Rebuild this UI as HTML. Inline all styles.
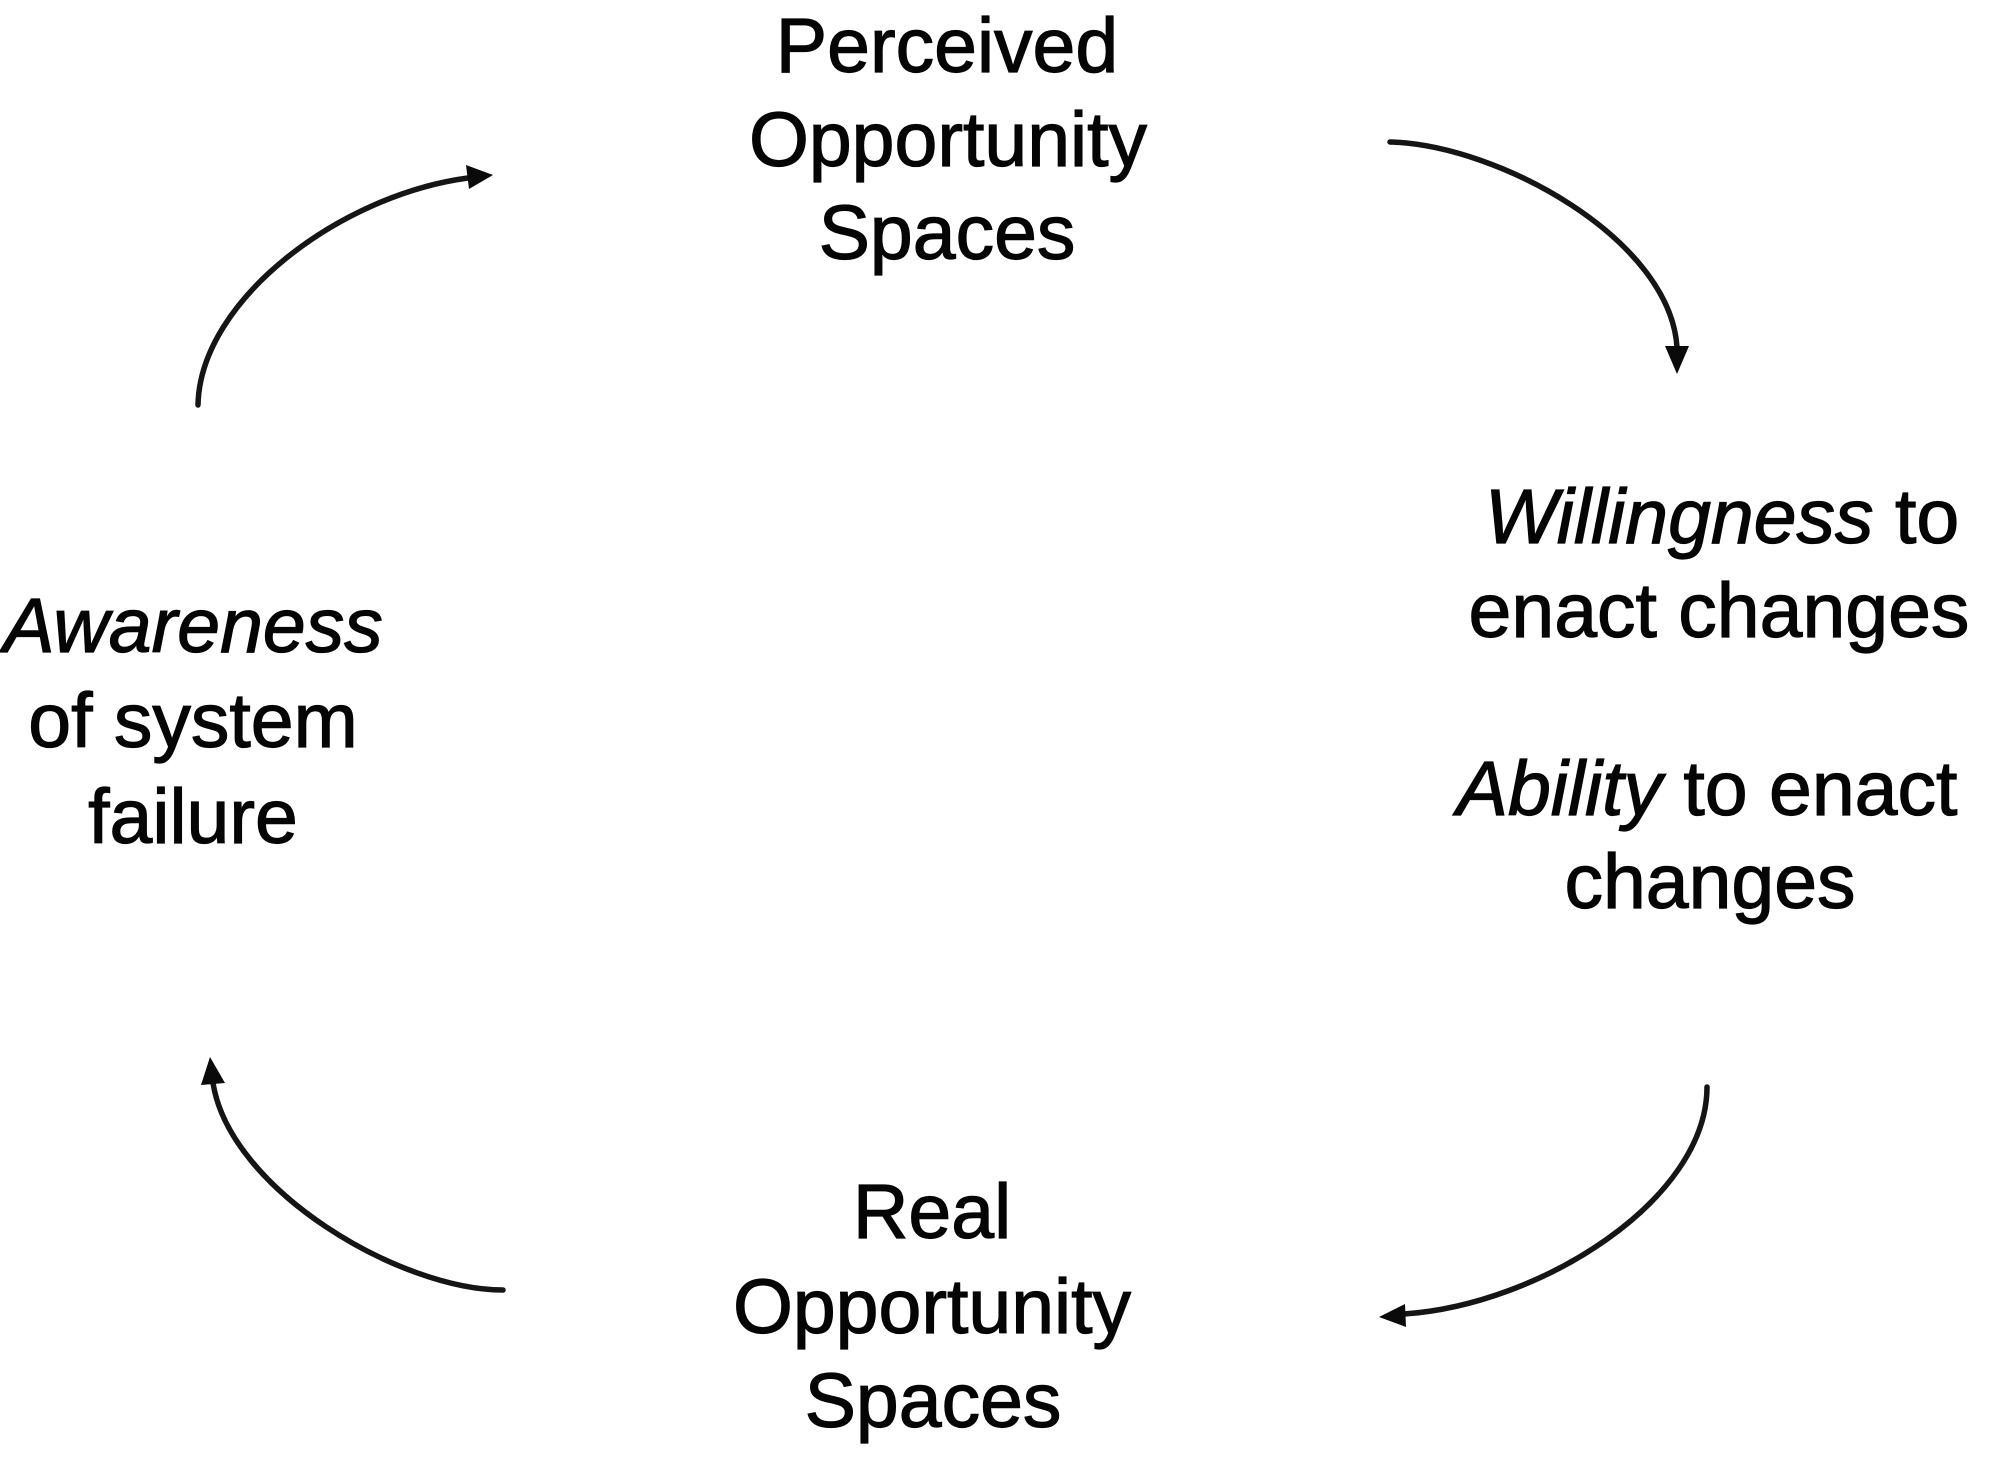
<!DOCTYPE html>
<html>
<head>
<meta charset="utf-8">
<style>
  html, body { margin: 0; padding: 0; background: #ffffff; }
  body { width: 2000px; height: 1469px; overflow: hidden; }
  svg { display: block; }
  text { font-family: "Liberation Sans", Arial, sans-serif; font-size: 77px; fill: #050505; stroke: #050505; stroke-width: 1.2px; }
  .i { font-style: italic; }
</style>
</head>
<body>
<svg width="2000" height="1469" viewBox="0 0 2000 1469" xmlns="http://www.w3.org/2000/svg">
  <rect x="0" y="0" width="2000" height="1469" fill="#ffffff"/>

  <!-- Top node -->
  <text x="947" y="72" text-anchor="middle">Perceived</text>
  <text x="948" y="166" text-anchor="middle">Opportunity</text>
  <text x="947" y="259" text-anchor="middle">Spaces</text>

  <!-- Right node -->
  <text x="1722" y="543" text-anchor="middle"><tspan class="i">Willingness</tspan> to</text>
  <text x="1719" y="637" text-anchor="middle">enact changes</text>
  <text x="1707" y="815" text-anchor="middle"><tspan class="i">Ability</tspan> to enact</text>
  <text x="1710" y="908" text-anchor="middle">changes</text>

  <!-- Left node -->
  <text x="193" y="652" text-anchor="middle" class="i">Awareness</text>
  <text x="193" y="747" text-anchor="middle">of system</text>
  <text x="193" y="843" text-anchor="middle">failure</text>

  <!-- Bottom node -->
  <text x="932" y="1238" text-anchor="middle">Real</text>
  <text x="932" y="1333" text-anchor="middle">Opportunity</text>
  <text x="933" y="1427" text-anchor="middle">Spaces</text>

  <g fill="none" stroke="#151515" stroke-width="5.5" stroke-linecap="round">
    <!-- top-left arc -->
    <path d="M198,405 C200,300 340,195 468,178"/>
    <!-- top-right arc -->
    <path d="M1390,142 C1500,145 1670,240 1677,347"/>
    <!-- bottom-right arc -->
    <path d="M1707,1087 C1707,1200 1540,1305 1404,1314"/>
    <!-- bottom-left arc -->
    <path d="M503,1290 C400,1290 230,1190 213,1083"/>
  </g>

  <g fill="#0a0a0a">
    <!-- top-left arrowhead pointing right -->
    <polygon points="493,175 466,165 469,189"/>
    <!-- top-right arrowhead pointing down -->
    <polygon points="1677,374 1665,346 1689,346"/>
    <!-- bottom-right arrowhead pointing left -->
    <polygon points="1379,1317 1405,1304 1406,1327"/>
    <!-- bottom-left arrowhead pointing up -->
    <polygon points="210,1057 201,1085 225,1083"/>
  </g>
</svg>
</body>
</html>
